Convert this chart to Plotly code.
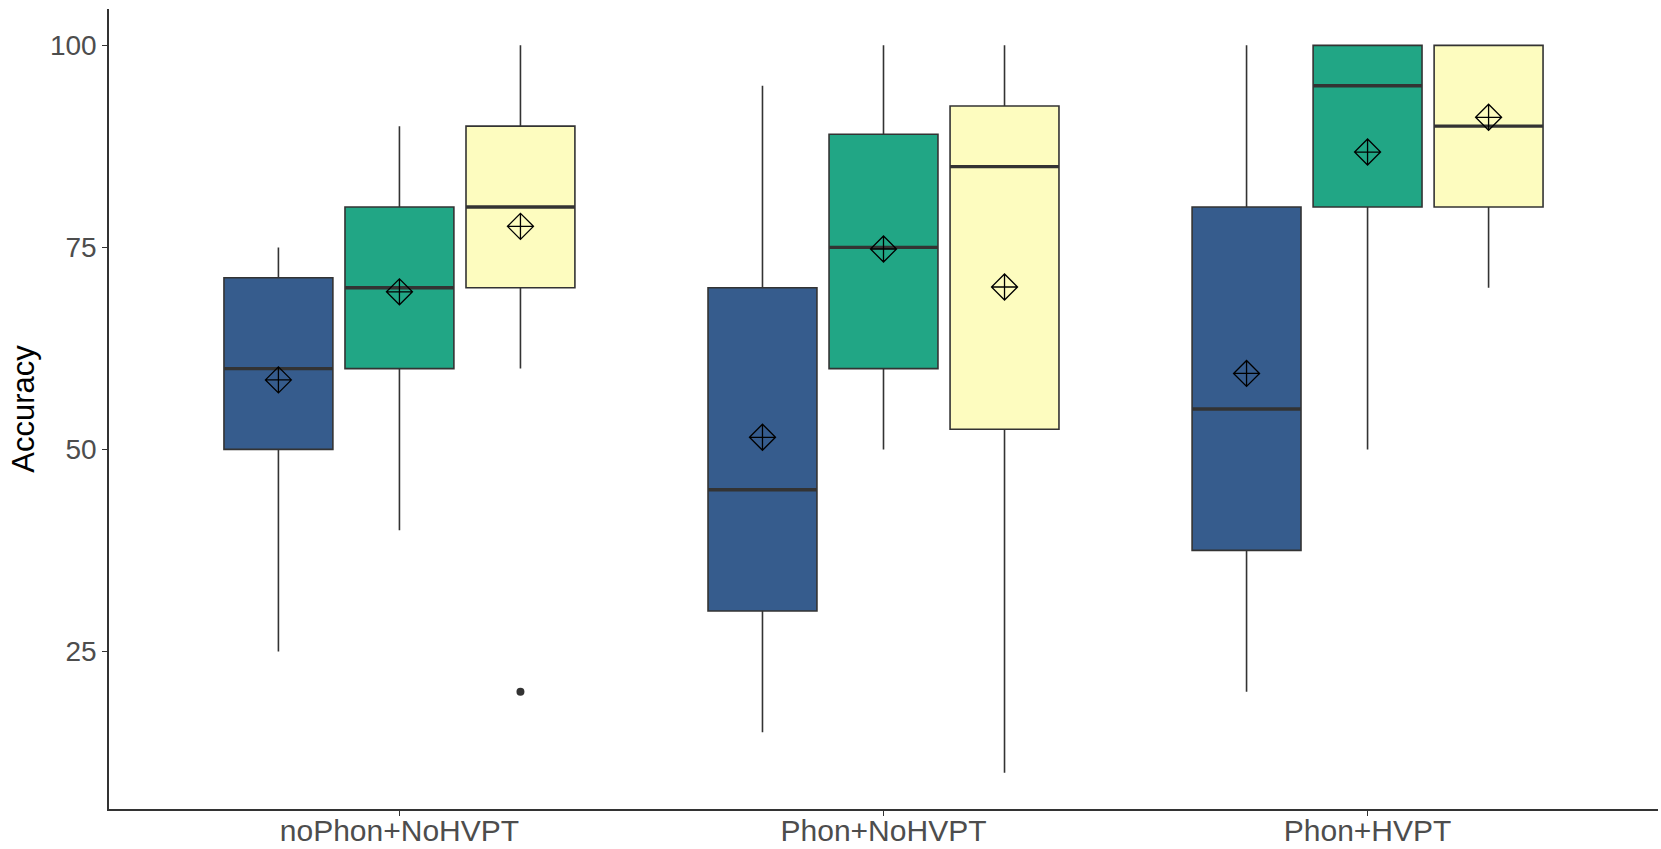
import plotly.graph_objects as go

# Conditions on the x axis and the three fill groups within each
conditions = ["noPhon+NoHVPT", "Phon+NoHVPT", "Phon+HVPT"]
group_colors = ["#365C8D", "#21A685", "#FDFCBF"]

# Box statistics per group, one value per condition
lower_whisker = [[25, 15, 20], [40, 50, 50], [60, 10, 70]]
q1_vals       = [[50, 30, 37.5], [60, 60, 80], [70, 52.5, 80]]
medians       = [[60, 45, 55], [70, 75, 95], [80, 85, 90]]
q3_vals       = [[71.25, 70, 80], [80, 89, 100], [90, 92.5, 100]]
upper_whisker = [[75, 95, 100], [90, 100, 100], [100, 100, 100]]
means         = [[58.6, 51.5, 59.4], [69.5, 74.8, 86.8], [77.6, 70.1, 91.1]]

# Outlying observations: (group index, condition index, value)
outliers = [(2, 0, 20)]

dodge = 0.25
box_w = 0.225
edge = "#333333"

fig = go.Figure()

for g in range(3):
    xs = [c + (g - 1) * dodge for c in range(len(conditions))]
    fig.add_trace(go.Box(
        x=xs,
        q1=q1_vals[g], median=medians[g], q3=q3_vals[g],
        lowerfence=lower_whisker[g], upperfence=upper_whisker[g],
        width=box_w,
        fillcolor=group_colors[g],
        line=dict(color=edge, width=1.6),
        whiskerwidth=0,
        boxpoints=False,
        hoverinfo="skip",
        showlegend=False,
    ))

# Thicker median bars
for g in range(3):
    mx, my = [], []
    for c in range(len(conditions)):
        xc = c + (g - 1) * dodge
        mx += [xc - box_w / 2, xc + box_w / 2, None]
        my += [medians[g][c], medians[g][c], None]
    fig.add_trace(go.Scatter(
        x=mx, y=my, mode="lines",
        line=dict(color=edge, width=3.4),
        hoverinfo="skip", showlegend=False,
    ))

# Group means
for g in range(3):
    xs = [c + (g - 1) * dodge for c in range(len(conditions))]
    fig.add_trace(go.Scatter(
        x=xs, y=means[g], mode="markers",
        marker=dict(symbol="diamond-cross-open", size=20,
                    color="black", line=dict(width=1.3, color="black")),
        hoverinfo="skip", showlegend=False,
    ))

# Outlier points
fig.add_trace(go.Scatter(
    x=[c + (g - 1) * dodge for g, c, _ in outliers],
    y=[v for _, _, v in outliers],
    mode="markers",
    marker=dict(symbol="circle", size=8, color=edge),
    hoverinfo="skip", showlegend=False,
))

font_family = "Liberation Sans, Arial, sans-serif"

fig.update_layout(
    width=1661, height=849,
    margin=dict(l=109, r=3, t=9, b=40),
    paper_bgcolor="white",
    plot_bgcolor="white",
    font=dict(family=font_family),
    xaxis=dict(
        range=[-0.6, 2.6],
        tickmode="array",
        tickvals=list(range(len(conditions))),
        ticktext=conditions,
        automargin=False,
        ticklabelstandoff=-11,
        showgrid=False, zeroline=False,
        showline=True, linecolor=edge, linewidth=1.6,
        ticks="outside", ticklen=5, tickcolor=edge, tickwidth=1.3,
        tickfont=dict(size=30, color="#4D4D4D", family=font_family),
    ),
    yaxis=dict(
        range=[5.5, 104.5],
        tickvals=[25, 50, 75, 100],
        showgrid=False, zeroline=False,
        showline=True, linecolor=edge, linewidth=1.6,
        ticks="outside", ticklen=5, tickcolor=edge, tickwidth=1.3,
        tickfont=dict(size=28, color="#4D4D4D", family=font_family),
        title=dict(text="Accuracy", standoff=6,
                   font=dict(size=31, color="black", family=font_family)),
    ),
)

fig.write_html("out.html")
